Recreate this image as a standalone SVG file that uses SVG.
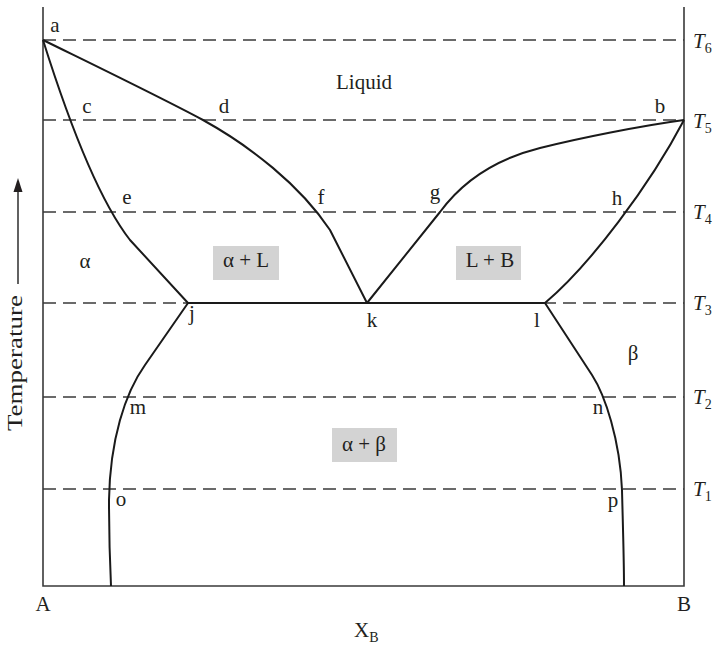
<svg xmlns="http://www.w3.org/2000/svg" width="715" height="645" viewBox="0 0 715 645">
<style>
text{font-family:"Liberation Serif","Times New Roman",serif;fill:#231f20;font-size:21px}
.lab{text-anchor:middle}
.T{font-style:italic;font-size:21px}
.sub{font-style:normal;font-size:14px}
.dash{stroke:#3a3a3a;stroke-width:1.3;stroke-dasharray:13,7;fill:none}
.axis{stroke:#3a3a3a;stroke-width:1.6;fill:none}
.curve{stroke:#1a1a1a;stroke-width:2;fill:none;stroke-linejoin:round}
.box{fill:#d3d3d3}
</style>
<rect width="715" height="645" fill="#ffffff"/>
<g id="isotherms">
<line class="dash" x1="43" y1="40" x2="684" y2="40"/>
<line class="dash" x1="43" y1="120" x2="684" y2="120"/>
<line class="dash" x1="43" y1="212" x2="684" y2="212"/>
<line class="dash" x1="43" y1="303" x2="684" y2="303"/>
<line class="dash" x1="43" y1="397" x2="684" y2="397"/>
<line class="dash" x1="43" y1="489" x2="684" y2="489"/>
</g>
<g id="regions">
<rect class="box" x="213" y="246" width="66" height="34"/>
<rect class="box" x="456" y="246" width="65" height="34"/>
<rect class="box" x="332" y="428" width="65" height="34"/>
</g>
<g id="axes">
<path class="axis" d="M43,7 L43,586 L684,586 L684,7"/>
</g>
<g id="phase-lines">
<path class="curve" d="M43,40 C100,68 160,97 203,120 C250,146 300,185 330,230 L367,303"/>
<path class="curve" d="M43,40 C65,110 95,195 130,240 L188,303 L545,303"/>
<path class="curve" d="M367,303 L440,212 C465,178 500,158 540,148 C580,138 640,126 684,120"/>
<path class="curve" d="M545,303 C590,265 650,185 684,120"/>
<path class="curve" d="M188,303 L145,365 C125,393 110,440 109,500 C109,540 110,565 111,586"/>
<path class="curve" d="M545,303 L592,375 C605,395 620,440 622,490 C623,530 624,560 624,586"/>
</g>
<g id="point-labels">
<text class="lab" x="55" y="32">a</text>
<text class="lab" x="660" y="113">b</text>
<text class="lab" x="87" y="113">c</text>
<text class="lab" x="224" y="113">d</text>
<text class="lab" x="127" y="204">e</text>
<text class="lab" x="321" y="204">f</text>
<text class="lab" x="435" y="199">g</text>
<text class="lab" x="617" y="205">h</text>
<text class="lab" x="192" y="320">j</text>
<text class="lab" x="372" y="327">k</text>
<text class="lab" x="537" y="327">l</text>
<text class="lab" x="138" y="414">m</text>
<text class="lab" x="598" y="414">n</text>
<text class="lab" x="121" y="506">o</text>
<text class="lab" x="613" y="507">p</text>
</g>
<g id="region-labels">
<text class="lab" x="364" y="89">Liquid</text>
<text class="lab" x="85" y="268">α</text>
<text class="lab" x="633" y="360">β</text>
<text class="lab" x="246" y="267">α + L</text>
<text class="lab" x="490" y="267">L + B</text>
<text class="lab" x="364" y="451">α + β</text>
</g>
<g id="temperature-labels">
<text class="T" x="693" y="48">T<tspan class="sub" dy="5">6</tspan></text>
<text class="T" x="693" y="128">T<tspan class="sub" dy="5">5</tspan></text>
<text class="T" x="693" y="219">T<tspan class="sub" dy="5">4</tspan></text>
<text class="T" x="693" y="310">T<tspan class="sub" dy="5">3</tspan></text>
<text class="T" x="693" y="404">T<tspan class="sub" dy="5">2</tspan></text>
<text class="T" x="693" y="496">T<tspan class="sub" dy="5">1</tspan></text>
</g>
<g id="axis-labels">
<text class="lab" x="43" y="611">A</text>
<text class="lab" x="684" y="611">B</text>
<text x="354" y="637">X<tspan class="sub" dy="5">B</tspan></text>
<text x="22" y="431" font-size="24" textLength="136" lengthAdjust="spacingAndGlyphs" transform="rotate(-90 22 431)">Temperature</text>
<line x1="18" y1="284" x2="18" y2="188" stroke="#3a3a3a" stroke-width="1.6"/>
<polygon points="18,178 13.5,192 22.5,192" fill="#231f20"/>
</g>
</svg>
